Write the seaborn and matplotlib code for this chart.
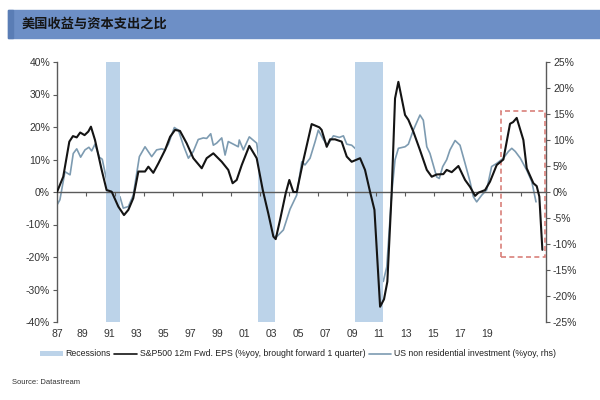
import matplotlib
matplotlib.use("Agg")
import matplotlib.pyplot as plt
from matplotlib.patches import Rectangle, Patch
from matplotlib.lines import Line2D
import seaborn as sns
import pandas as pd

# ---------------- data ----------------
eps_year = [1987.0, 1987.43, 1987.85, 1988.1, 1988.36, 1988.6, 1988.9, 1989.16, 1989.34, 1989.62,
            1990.08, 1990.42, 1990.77, 1991.23, 1991.62, 1991.92, 1992.26, 1992.61, 1993.07, 1993.3,
            1993.64, 1993.99, 1994.45, 1994.8, 1995.14, 1995.48, 1995.94, 1996.4, 1996.98, 1997.32,
            1997.78, 1998.36, 1998.81, 1999.11, 1999.39, 1999.74, 2000.26, 2000.77, 2001.19, 2001.57,
            2001.92, 2002.08, 2002.38, 2002.77, 2003.02, 2003.3, 2003.53, 2003.99, 2004.56, 2005.09,
            2005.25, 2005.6, 2005.83, 2006.17, 2006.63, 2006.98, 2007.32, 2007.9, 2008.24, 2008.59,
            2008.89, 2009.28, 2009.55, 2009.78, 2010.08, 2010.31, 2010.54, 2011.0, 2011.23, 2011.57,
            2012.03, 2012.5, 2012.84, 2013.18, 2013.64, 2013.87, 2014.22, 2014.68, 2015.14, 2015.48,
            2015.83, 2016.06, 2016.52, 2016.86, 2017.32, 2017.78, 2018.24, 2018.45, 2018.7, 2019.16,
            2019.39, 2019.85, 2020.08, 2020.26, 2020.47]
eps_val = [0, 4.7, 15.5, 17.2, 16.8, 18.3, 17.5, 18.6, 20.1, 16,
           6.8, 0.6, 0.1, -4.5, -7.1, -5.5, -1.9, 6.3, 6.3, 7.8,
           5.9, 8.8, 12.9, 17, 19.1, 18.8, 15, 10.4, 7.3, 10.4,
           11.9, 9.3, 6.8, 2.7, 3.7, 8.3, 14.2, 10.4, 0.6, -6.6,
           -13.7, -14.5, -8.6, -0.4, 3.7, 0, 0, 9.8, 20.9, 19.9,
           19.1, 13.9, 16.2, 16.2, 15.5, 10.9, 9.3, 10.4, 6.8, 0,
           -5.5, -35.3, -33, -27.6, 0, 28.8, 33.9, 23.7, 22.2, 18.6,
           12.9, 6.8, 4.7, 5.4, 5.5, 6.8, 6.1, 8, 3.7, 1.6,
           -1.2, -0.2, 0.6, 3.2, 8.3, 10, 21.0, 21.5, 22.8, 16,
           7.3, 2.7, 1.8, -1.4, -17.8]

capex_year = [1987.0, 1987.2, 1987.55, 1987.9, 1988.12, 1988.36, 1988.63, 1988.93, 1989.2, 1989.39,
              1989.62, 1989.92, 1990.12, 1990.42, 1990.77, 1991.07, 1991.34, 1991.57, 1991.92, 1992.26,
              1992.68, 1993.07, 1993.53, 1993.87, 1994.22, 1994.45, 1994.68, 1995.09, 1995.37, 1995.71,
              1996.06, 1996.4, 1996.74, 1997.09, 1997.32, 1997.6, 1997.78, 1998.01, 1998.36, 1998.59,
              1998.81, 1999.16, 1999.5, 1999.57, 1999.85, 2000.26, 2000.77, 2001.12, 2001.46, 2001.92,
              2002.15, 2002.61, 2003.07, 2003.53, 2003.88, 2004.1, 2004.45, 2004.8, 2005.02, 2005.37,
              2005.65, 2006.06, 2006.47, 2006.75, 2006.98, 2007.32, 2007.67, 2008.13, 2008.47, 2008.93,
              2009.28, 2009.5, 2009.74, 2010.08, 2010.31, 2010.54, 2011.0, 2011.23, 2011.57, 2012.03,
              2012.26, 2012.5, 2012.72, 2013.18, 2013.36, 2013.6, 2013.87, 2014.1, 2014.45, 2014.79,
              2015.14, 2015.48, 2015.71, 2015.94, 2016.29, 2016.63, 2016.97, 2017.32, 2017.78, 2018.13,
              2018.36, 2018.6, 2018.95, 2019.39, 2019.74, 2020.03]
capex_val = [-2.5, -1.5, 3.9, 3.3, 7.4, 8.3, 6.7, 8.1, 8.6, 7.9,
             9.2, 6.7, 6.3, 2.3, 1.3, -1.2, -0.9, -3.1, -2.8, -0.6,
             6.8, 8.7, 6.8, 8.1, 8.3, 8.1, 9.2, 12.4, 11.9, 9.0,
             6.5, 7.8, 10.1, 10.4, 10.3, 11.2, 9.0, 9.4, 10.4, 7.1,
             9.7, 9.2, 8.7, 10.0, 8.1, 10.6, 9.4, 2.3, -2.8, -8.3,
             -8.6, -7.3, -3.3, -0.6, 5.8, 5.2, 6.5, 9.7, 11.9, 10.1,
             9.0, 10.8, 10.5, 10.8, 9.2, 9.0, 8.1, 5.5, 2.3, -7.3,
             -15.6, -17.2, -14.4, -0.3, 6.2, 8.4, 8.7, 9.2, 11.9, 14.8,
             13.8, 8.7, 7.4, 2.9, 2.6, 4.9, 6.2, 8.1, 9.9, 9.0,
             5.5, 2.0, -0.9, -1.9, -0.6, 0.4, 4.9, 5.5, 6.5, 7.8,
             8.4, 7.8, 6.5, 4.2, 2.0, -1.9]

recession_start = [1990.38, 2000.86, 2007.55]
recession_end = [1991.34, 2002.03, 2009.48]

x_labels = ["87", "89", "91", "93", "95", "97", "99", "01", "03", "05", "07", "09",
            "11", "13", "15", "17", "19"]
left_ticks = [40, 30, 20, 10, 0, -10, -20, -30, -40]
right_ticks = [25, 20, 15, 10, 5, 0, -5, -10, -15, -20, -25]

highlight_x = [2017.6, 2020.65]
highlight_y = [-12.5, 15.6]

title = "美国收益与资本支出之比"
eps_label = "S&P500 12m Fwd. EPS (%yoy, brought forward 1 quarter)"
capex_label = "US non residential investment (%yoy, rhs)"
rec_label = "Recessions"
source = "Source: Datastream"

# ---------------- style ----------------
sns.set_style("white")
plt.rcParams["font.family"] = ["Liberation Sans", "DejaVu Sans"]

BLACK = "#141414"
GREY = "#7d9bb1"
REC = "#bcd3e9"
AXC = "#5a5a5a"

fig = plt.figure(figsize=(6, 4), dpi=100)
ax = fig.add_axes([57 / 600, 78 / 400, 489 / 600, 260 / 400])
ax2 = ax.twinx()

eps_df = pd.DataFrame({"year": eps_year, "val": eps_val})
capex_df = pd.DataFrame({"year": capex_year, "val": capex_val})

for s, e in zip(recession_start, recession_end):
    ax.axvspan(s, e, color=REC, lw=0, zorder=0)

sns.lineplot(data=capex_df, x="year", y="val", ax=ax2, color=GREY, lw=1.2, sort=False, zorder=3)
sns.lineplot(data=eps_df, x="year", y="val", ax=ax, color=BLACK, lw=1.5, sort=False, zorder=4)
ax.set_zorder(ax2.get_zorder() + 1)
ax.patch.set_visible(False)

x0, x1 = 1987.0, 2020.72
ax.set_xlim(x0, x1)
ax.set_ylim(-40, 40)
ax2.set_ylim(-25, 25)

# highlight box (right axis coordinates)
ax2.add_patch(Rectangle((highlight_x[0], highlight_y[0]), highlight_x[1] - highlight_x[0],
                        highlight_y[1] - highlight_y[0], fill=False, ls=(0, (3, 2)),
                        ec="#d9807a", lw=1.2, zorder=5))

# spines
for a in (ax, ax2):
    a.spines["top"].set_visible(False)
    a.set_xlabel("")
    a.set_ylabel("")
ax.spines["right"].set_visible(False)
ax2.spines["left"].set_visible(False)
ax2.spines["bottom"].set_visible(False)
ax.spines["left"].set_color(AXC)
ax2.spines["right"].set_color(AXC)
ax.spines["bottom"].set_position(("data", 0))
ax.spines["bottom"].set_color(AXC)
for sp in ("left", "bottom"):
    ax.spines[sp].set_linewidth(1.0)
ax2.spines["right"].set_linewidth(1.0)

# y ticks
ax.set_yticks(left_ticks)
ax.set_yticklabels([f"{v}%" for v in left_ticks])
ax2.set_yticks(right_ticks)
ax2.set_yticklabels([f"{v}%" for v in right_ticks])
ax.tick_params(axis="y", direction="out", length=3, color=AXC, labelsize=7.5,
               labelcolor="#333333", pad=2, left=True)
ax2.tick_params(axis="y", direction="out", length=3, color=AXC, labelsize=7.5,
                labelcolor="#333333", pad=2, right=True)

# x: tick marks on the zero line every 2 years, labels below the plot
ax.set_xticks(list(range(1989, 2020, 2)))
ax.tick_params(axis="x", direction="out", length=3, color=AXC, labelbottom=False, bottom=True)
sec = ax.secondary_xaxis("bottom")
lab_pos = [max(x0, x0 + (55 + 27 * i - 57) / 14.5) for i in range(len(x_labels))]
sec.set_xticks(lab_pos)
sec.set_xticklabels(x_labels)
sec.tick_params(axis="x", length=0, labelsize=7.5, labelcolor="#333333", pad=5)
sec.spines["bottom"].set_visible(False)

# title banner
fig.patches.append(Rectangle((8 / 600, 1 - 38 / 400), 1, 28 / 400, transform=fig.transFigure,
                             color="#6d8fc6", zorder=0))
fig.patches.append(Rectangle((8 / 600, 1 - 38 / 400), 5 / 600, 28 / 400, transform=fig.transFigure,
                             color="#5a7db5", zorder=1))
fig.text(22 / 600, 1 - 24 / 400, title, fontsize=9.5, fontweight="bold", va="center",
         ha="left", color="#151515", family=["Noto Sans CJK SC", "DejaVu Sans"])

# legend
handles = [Patch(facecolor=REC, edgecolor="none"),
           Line2D([], [], color=BLACK, lw=1.2),
           Line2D([], [], color=GREY, lw=1.2)]
fig.legend(handles, [rec_label, eps_label, capex_label], loc="center left",
           bbox_to_anchor=(32 / 600, 1 - 354 / 400), ncol=3, frameon=False, fontsize=6.3,
           handlelength=2.6, handleheight=0.5, handletextpad=0.3, columnspacing=0.4,
           labelcolor="#222222")

fig.text(12 / 600, 1 - 382 / 400, source, fontsize=5.5, color="#333333", va="center", ha="left")

fig.savefig("out.png", dpi=100)
